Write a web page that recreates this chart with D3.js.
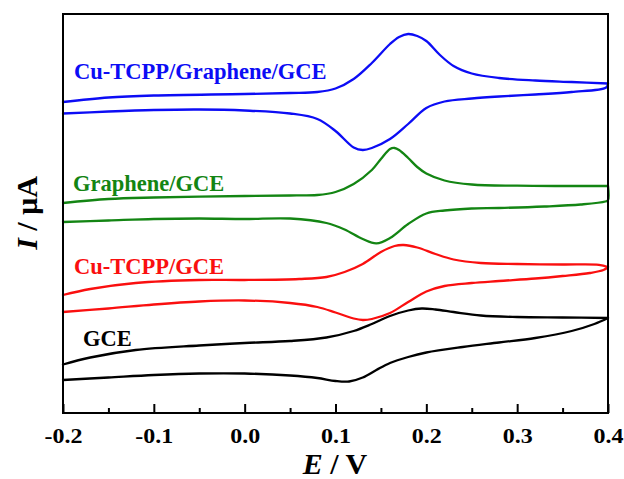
<!DOCTYPE html>
<html>
<head>
<meta charset="utf-8">
<script src="https://cdn.jsdelivr.net/npm/d3@7"></script>
<style>
	body { margin: 0; background: #fff; }
	svg { display: block; font-family: "Liberation Serif", "Times New Roman", serif; }
</style>
</head>
<body>
<svg id="fig" width="624" height="479"></svg>
<script>
// cyclic voltammograms, [E (V), I (arb. uA)] : forward scan then reverse scan
const cuTcppGrapheneGce = [
	[-0.2, 311], [-0.15, 315.5], [-0.1, 317.5], [0.0, 319], [0.05, 320], [0.08, 321],
	[0.1, 324.5], [0.12, 334], [0.14, 350], [0.16, 369], [0.17, 376], [0.18, 379],
	[0.19, 377], [0.2, 372], [0.215, 358], [0.23, 347], [0.25, 339.5], [0.28, 335],
	[0.32, 332.5], [0.36, 331], [0.4, 329.5],
	[0.398, 325.5], [0.36, 321], [0.32, 318.5], [0.28, 316.5], [0.25, 314.5], [0.22, 311.5],
	[0.2, 305], [0.18, 289], [0.16, 274], [0.14, 265], [0.13, 263], [0.12, 265.5],
	[0.1, 282], [0.08, 294], [0.05, 299.5], [0.0, 302.5], [-0.05, 303.5], [-0.1, 303],
	[-0.15, 301.5], [-0.2, 299.5]
];
const grapheneGce = [
	[-0.2, 210], [-0.15, 214], [-0.1, 215.5], [0.0, 217], [0.05, 217.5], [0.08, 218],
	[0.1, 221], [0.12, 229], [0.14, 243], [0.15, 254], [0.16, 264], [0.165, 265],
	[0.17, 263], [0.18, 255], [0.19, 246], [0.2, 239.5], [0.22, 232.5], [0.25, 228.5],
	[0.3, 227.3], [0.35, 227], [0.4, 227],
	[0.4, 213], [0.397, 211.5], [0.37, 208.5], [0.33, 206.5], [0.28, 205], [0.25, 204.5],
	[0.22, 202.5], [0.2, 199.5], [0.18, 189], [0.16, 175], [0.145, 169.7], [0.13, 174],
	[0.11, 183.5], [0.09, 190], [0.05, 194.5], [0.0, 194], [-0.05, 194.5], [-0.1, 194],
	[-0.15, 192.5], [-0.2, 191]
];
const cuTcppGce = [
	[-0.2, 118], [-0.17, 124], [-0.12, 130], [-0.05, 133], [0.0, 133], [0.06, 134],
	[0.09, 136], [0.11, 141], [0.13, 149], [0.15, 161], [0.165, 167], [0.175, 168],
	[0.19, 165.5], [0.21, 159], [0.23, 153.5], [0.26, 150], [0.3, 149], [0.35, 148.5],
	[0.39, 148.2], [0.4, 146],
	[0.395, 143], [0.38, 140], [0.35, 137], [0.32, 134.5], [0.28, 132], [0.25, 130],
	[0.22, 127], [0.2, 121.5], [0.18, 111], [0.16, 100], [0.14, 94], [0.13, 93],
	[0.12, 94.5], [0.1, 100.5], [0.08, 106], [0.05, 110], [0.0, 112.5], [-0.05, 111.5],
	[-0.1, 108.5], [-0.15, 104.5], [-0.2, 101]
];
const bareGce = [
	[-0.2, 48.5], [-0.17, 55.5], [-0.12, 63], [-0.05, 67.5], [0.0, 70], [0.05, 72],
	[0.09, 75.5], [0.12, 82], [0.14, 89], [0.16, 97], [0.18, 102.5], [0.195, 104.5],
	[0.21, 103.5], [0.23, 101], [0.26, 97.5], [0.3, 96], [0.35, 95.5], [0.4, 95],
	[0.385, 89], [0.36, 82], [0.32, 75], [0.28, 70.5], [0.24, 66],
	[0.2, 60.5], [0.18, 56], [0.16, 50], [0.145, 43], [0.13, 35.5], [0.115, 31.5],
	[0.1, 32], [0.08, 35], [0.05, 37.5], [0.0, 39.5], [-0.05, 39.5], [-0.1, 38],
	[-0.15, 35.5], [-0.2, 33]
];

const seriesNames = ["Cu-TCPP/Graphene/GCE", "Graphene/GCE", "Cu-TCPP/GCE", "GCE"];
const seriesData = [cuTcppGrapheneGce, grapheneGce, cuTcppGce, bareGce];
const seriesColors = ["#0c0cf5", "#138513", "#fa0f0f", "#000000"];
const majorTicks = [-0.2, -0.1, 0.0, 0.1, 0.2, 0.3, 0.4];
const minorTicks = [-0.15, -0.05, 0.05, 0.15, 0.25, 0.35];

const svg = d3.select("#fig");
const plotLeft = 63, plotTop = 14, plotRight = 608, plotBottom = 413;

const x = d3.scaleLinear().domain([-0.2, 0.4]).range([plotLeft, plotRight]);
const y = d3.scaleLinear().domain([0, 400]).range([plotBottom, plotTop - 1]);

const line = d3.line()
	.x(d => x(d[0]))
	.y(d => y(d[1]))
	.curve(d3.curveCatmullRom.alpha(0.5));

// split a voltammogram at the switching potential: forward and reverse branch
function branches(pts) {
	const turn = pts.findIndex(p => p[0] === 0.4);
	return [pts.slice(0, turn + 1), pts.slice(turn)];
}

seriesData.forEach((pts, i) => {
	svg.append("g").selectAll("path")
		.data(branches(pts))
		.join("path")
		.attr("d", line)
		.attr("fill", "none")
		.attr("stroke", seriesColors[i])
		.attr("stroke-width", 2.3)
		.attr("stroke-linejoin", "round")
		.attr("stroke-linecap", "round");
});

// curve names, left aligned inside the frame
const labelPos = [[74, 79], [73, 191], [74, 274], [83, 346]];
svg.append("g").selectAll("text")
	.data(seriesNames)
	.join("text")
	.attr("x", (d, i) => labelPos[i][0])
	.attr("y", (d, i) => labelPos[i][1])
	.attr("fill", (d, i) => seriesColors[i])
	.attr("font-size", 22.5)
	.attr("font-weight", "bold")
	.text(d => d);

// x axis, ticks pointing inwards
const xAxis = d3.axisBottom(x)
	.tickValues(majorTicks)
	.tickSizeInner(-9)
	.tickSizeOuter(0)
	.tickFormat(d => d.toFixed(1));
const gx = svg.append("g")
	.attr("transform", "translate(0," + plotBottom + ")")
	.call(xAxis);
gx.select(".domain").remove();
gx.selectAll("line").attr("stroke", "#000").attr("stroke-width", 2);
gx.selectAll("text")
	.attr("y", 30)
	.attr("dy", 0)
	.attr("transform", "scale(1.17,1)")
	.attr("fill", "#000")
	.attr("font-family", "Liberation Serif, Times New Roman, serif")
	.attr("font-size", 20.5)
	.attr("font-weight", "bold");

const gm = svg.append("g")
	.attr("transform", "translate(0," + plotBottom + ")")
	.call(d3.axisBottom(x).tickValues(minorTicks).tickSizeInner(-5).tickSizeOuter(0).tickFormat(""));
gm.select(".domain").remove();
gm.selectAll("line").attr("stroke", "#000").attr("stroke-width", 2);

// frame
svg.append("rect")
	.attr("x", plotLeft)
	.attr("y", plotTop)
	.attr("width", plotRight - plotLeft)
	.attr("height", plotBottom - plotTop)
	.attr("fill", "none")
	.attr("stroke", "#000")
	.attr("stroke-width", 2);

// axis titles
const xt = svg.append("text")
	.attr("x", 335)
	.attr("y", 474)
	.attr("text-anchor", "middle")
	.attr("font-size", 30)
	.attr("font-weight", "bold");
xt.append("tspan").attr("font-style", "italic").text("E");
xt.append("tspan").text(" / V");

const yt = svg.append("text")
	.attr("transform", "translate(37,213) rotate(-90)")
	.attr("text-anchor", "middle")
	.attr("font-size", 30)
	.attr("font-weight", "bold");
yt.append("tspan").attr("font-style", "italic").text("I");
yt.append("tspan").text(" / μA");
</script>
</body>
</html>
